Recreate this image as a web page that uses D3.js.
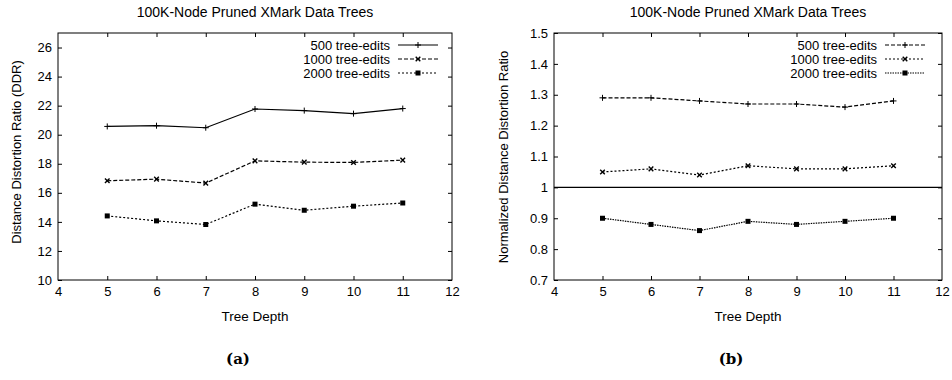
<!DOCTYPE html>
<html lang="en">
  <head>
    <meta charset="UTF-8" />
    <title>100K-Node Pruned XMark Data Trees</title>
    <script src="https://d3js.org/d3.v7.min.js"></script>
    <style>
      body {
        margin: 0;
        background: #fff;
      }
      svg text {
        font-family: "Liberation Sans", Arial, sans-serif;
        fill: #000;
      }
      .caption {
        font-family: "DejaVu Serif", "Liberation Serif", serif;
        font-weight: bold;
      }
    </style>
  </head>
  <body>
    <svg width="952" height="380"></svg>
    <script>
      // tree depths on the x axis
      const depths = [5, 6, 7, 8, 9, 10, 11];
      const seriesNames = ["500 tree-edits", "1000 tree-edits", "2000 tree-edits"];

      // (a) raw distance distortion ratio
      const ddr500 = [20.57, 20.62, 20.48, 21.77, 21.66, 21.45, 21.8];
      const ddr1000 = [16.83, 16.94, 16.67, 18.2, 18.11, 18.09, 18.25];
      const ddr2000 = [14.41, 14.07, 13.82, 15.22, 14.8, 15.08, 15.3];

      // (b) normalized ratio
      const norm500 = [1.29, 1.29, 1.28, 1.27, 1.27, 1.26, 1.28];
      const norm1000 = [1.05, 1.06, 1.04, 1.07, 1.06, 1.06, 1.07];
      const norm2000 = [0.9, 0.88, 0.86, 0.89, 0.88, 0.89, 0.9];

      const xTicks = [4, 5, 6, 7, 8, 9, 10, 11, 12];
      const yTicksA = [10, 12, 14, 16, 18, 20, 22, 24, 26];
      const yTicksB = [0.7, 0.8, 0.9, 1, 1.1, 1.2, 1.3, 1.4, 1.5];

      const svg = d3.select("svg");

      function drawPanel(opts) {
        const g = svg.append("g");
        const x = d3.scaleLinear().domain([4, 12]).range([opts.left, opts.right]);
        const y = d3.scaleLinear().domain(opts.yDomain).range([280, 33]);

        // frame
        g.append("rect")
          .attr("x", opts.left)
          .attr("y", 33)
          .attr("width", opts.right - opts.left)
          .attr("height", 247)
          .attr("fill", "none")
          .attr("stroke", "#000")
          .attr("stroke-width", 1);

        const fmt = opts.fmt;
        const bottom = g.append("g")
          .attr("transform", `translate(0,280)`)
          .call(d3.axisBottom(x).tickValues(xTicks).tickSize(-4).tickPadding(7));
        const top = g.append("g")
          .attr("transform", `translate(0,33)`)
          .call(d3.axisTop(x).tickValues(xTicks).tickSize(-4).tickFormat(""));
        const left = g.append("g")
          .attr("transform", `translate(${opts.left},0)`)
          .call(d3.axisLeft(y).tickValues(opts.yTicks).tickSize(-4).tickPadding(6).tickFormat(fmt));
        const right = g.append("g")
          .attr("transform", `translate(${opts.right},0)`)
          .call(d3.axisRight(y).tickValues(opts.yTicks).tickSize(-4).tickFormat(""));

        [bottom, top, left, right].forEach((a) => {
          a.select(".domain").remove();
          a.selectAll("line").attr("stroke", "#000");
          a.selectAll("text").style("font-size", "13px").attr("fill", "#000");
        });
        // first/last ticks sit on the frame; hide them
        [bottom, top].forEach((a) =>
          a.selectAll(".tick line").filter((d) => d === 4 || d === 12).remove()
        );

        if (opts.refLine !== undefined) {
          g.append("line")
            .attr("x1", opts.left)
            .attr("x2", opts.right)
            .attr("y1", y(opts.refLine))
            .attr("y2", y(opts.refLine))
            .attr("stroke", "#000")
            .attr("stroke-width", 1.3);
        }

        // titles
        g.append("text")
          .attr("x", (opts.left + opts.right) / 2)
          .attr("y", 17)
          .attr("text-anchor", "middle")
          .style("font-size", "14px")
          .text("100K-Node Pruned XMark Data Trees");
        g.append("text")
          .attr("x", (opts.left + opts.right) / 2)
          .attr("y", 321)
          .attr("text-anchor", "middle")
          .style("font-size", "13.5px")
          .text("Tree Depth");
        g.append("text")
          .attr("transform", `translate(${opts.yLabelX},${opts.yLabelY}) rotate(-90)`)
          .attr("text-anchor", "middle")
          .style("font-size", "13px")
          .text(opts.yLabel);
        g.append("text")
          .attr("class", "caption")
          .attr("x", (opts.left + opts.right) / 2 - 17)
          .attr("y", 364)
          .attr("text-anchor", "middle")
          .style("font-size", "15px")
          .text(opts.caption);

        const line = d3.line().x((d, i) => x(depths[i])).y((d) => y(d));

        opts.series.forEach((vals, si) => {
          const dash = opts.dashes[si];
          g.append("path")
            .datum(vals)
            .attr("d", line)
            .attr("fill", "none")
            .attr("stroke", "#000")
            .attr("stroke-width", 1.2)
            .attr("stroke-dasharray", dash);
          vals.forEach((v, i) => marker(g, x(depths[i]), y(v), si));

          // legend
          const ly = 45 + si * 14;
          g.append("text")
            .attr("x", opts.legendX)
            .attr("y", ly + 5)
            .attr("text-anchor", "end")
            .style("font-size", "13px")
            .text(seriesNames[si]);
          g.append("line")
            .attr("x1", opts.legendX + 8)
            .attr("x2", opts.legendX + 48)
            .attr("y1", ly)
            .attr("y2", ly)
            .attr("stroke", "#000")
            .attr("stroke-width", 1.2)
            .attr("stroke-dasharray", dash);
          marker(g, opts.legendX + 28, ly, si);
        });
      }

      function marker(g, cx, cy, kind) {
        if (kind === 0) {
          const s = 3;
          g.append("path")
            .attr("d", `M${cx - s},${cy}H${cx + s}M${cx},${cy - s}V${cy + s}`)
            .attr("stroke", "#000")
            .attr("stroke-width", 1);
        } else if (kind === 1) {
          const s = 2.3;
          g.append("path")
            .attr("d", `M${cx - s},${cy - s}L${cx + s},${cy + s}M${cx - s},${cy + s}L${cx + s},${cy - s}`)
            .attr("stroke", "#000")
            .attr("stroke-width", 1.4);
        } else {
          g.append("rect")
            .attr("x", cx - 2.5)
            .attr("y", cy - 2.5)
            .attr("width", 5)
            .attr("height", 5)
            .attr("fill", "#000");
        }
      }

      drawPanel({
        left: 58,
        right: 452,
        yDomain: [10, 27],
        yTicks: yTicksA,
        fmt: d3.format("d"),
        yLabel: "Distance Distortion Ratio (DDR)",
        yLabelX: 21,
        yLabelY: 152,
        caption: "(a)",
        series: [ddr500, ddr1000, ddr2000],
        dashes: [null, "4,2", "2,2"],
        legendX: 390,
      });

      drawPanel({
        left: 554,
        right: 942,
        yDomain: [0.7, 1.5],
        yTicks: yTicksB,
        fmt: (d) => (d === 1 ? "1" : d3.format(".1f")(d)),
        yLabel: "Normalized Distance Distortion Ratio",
        yLabelX: 508,
        yLabelY: 157,
        caption: "(b)",
        series: [norm500, norm1000, norm2000],
        dashes: ["4,2", "2,2", "1.5,1"],
        legendX: 877,
        refLine: 1,
      });
    </script>
  </body>
</html>
